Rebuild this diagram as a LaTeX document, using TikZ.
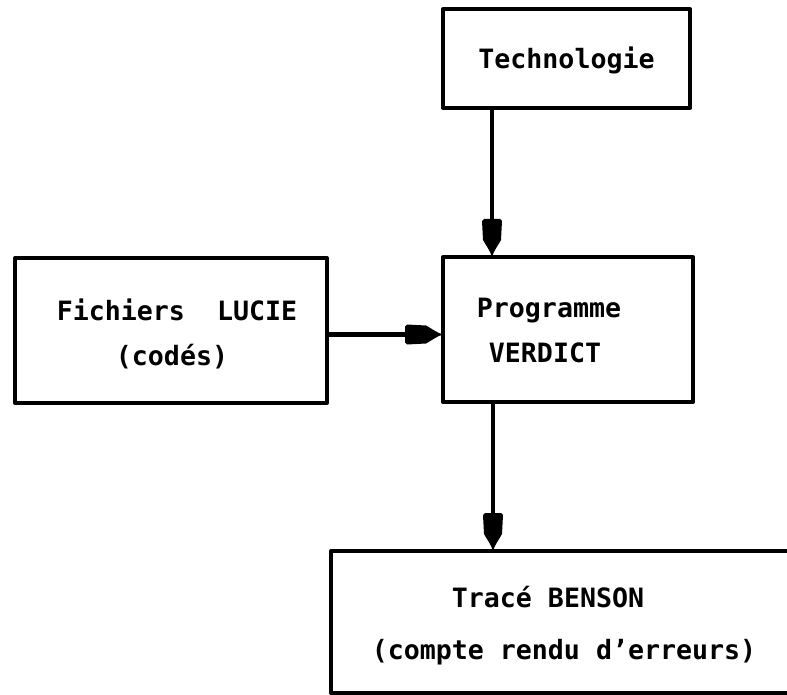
\documentclass[tikz,border=0pt]{standalone}
\usepackage{fontspec}
\setmonofont{DejaVu Sans Mono}
\usetikzlibrary{calc}
\pgfdeclarearrow{
  name=Pencil,
  setup code={
    \pgfarrowssettipend{0pt}
    \pgfarrowssetlineend{-20pt}
    \pgfarrowssetbackend{-38pt}
    \pgfarrowshullpoint{0pt}{0pt}
    \pgfarrowshullpoint{-38pt}{10pt}
    \pgfarrowshullpoint{-38pt}{-10pt}
  },
  drawing code={
    \pgfpathmoveto{\pgfpoint{0pt}{0pt}}
    \pgfpathcurveto{\pgfpoint{-6pt}{1.5pt}}{\pgfpoint{-13pt}{7pt}}{\pgfpoint{-17pt}{9pt}}
    \pgfpathlineto{\pgfpoint{-36pt}{10pt}}
    \pgfpathlineto{\pgfpoint{-38pt}{8pt}}
    \pgfpathlineto{\pgfpoint{-38pt}{-8pt}}
    \pgfpathlineto{\pgfpoint{-36pt}{-10pt}}
    \pgfpathlineto{\pgfpoint{-17pt}{-9pt}}
    \pgfpathcurveto{\pgfpoint{-13pt}{-7pt}}{\pgfpoint{-6pt}{-1.5pt}}{\pgfpoint{0pt}{0pt}}
    \pgfpathclose
    \pgfusepathqfill
  }
}
\begin{document}
\begin{tikzpicture}[x=1pt,y=-1pt,
  box/.style={draw, line width=4pt, line join=round, inner sep=0pt, outer sep=0pt, rectangle},
  txt/.style={anchor=base, inner sep=0pt, font=\ttfamily\bfseries\fontsize{26.6}{30}\selectfont},
  arr/.style={line width=4.2pt, -{Pencil}}]
\useasboundingbox (0,0) rectangle (787,695);
\fill[white] (0,0) rectangle (787,695);
% boxes
\node[box, minimum width=247pt, minimum height=99pt] (tech) at (566.5,58.5) {};
\node[box, minimum width=250pt, minimum height=145pt] (prog) at (568,329.5) {};
\node[box, minimum width=312pt, minimum height=145pt] (fich) at (171,330.5) {};
\node[box, minimum width=519pt, minimum height=142pt] (trace) at (590.5,622) {};
% texts
\node[txt] (tTech) at (566.5,69) {Technologie};
\node[txt] (tFich1) at (177,320) {Fichiers\ \ LUCIE};
\node[txt] (tFich2) at (172,365) {(codés)};
\node[txt] (tProg1) at (549,317) {Programme};
\node[txt] (tProg2) at (545,362) {VERDICT};
\node[txt] (tTr1) at (548,607) {Tracé BENSON};
\node[txt] (tTr2) at (564,659) {(compte rendu d’erreurs)};
% connectors
\draw[arr] ([xshift=49pt]tech.south west) -- ([xshift=49pt]prog.north west);
\draw[arr] ([yshift=-4pt]fich.east) -- ([yshift=-4pt]fich.east -| prog.west);
\draw[arr] ([xshift=50pt]prog.south west) -- ([xshift=50pt]prog.south west |- trace.north);
\end{tikzpicture}
\end{document}
